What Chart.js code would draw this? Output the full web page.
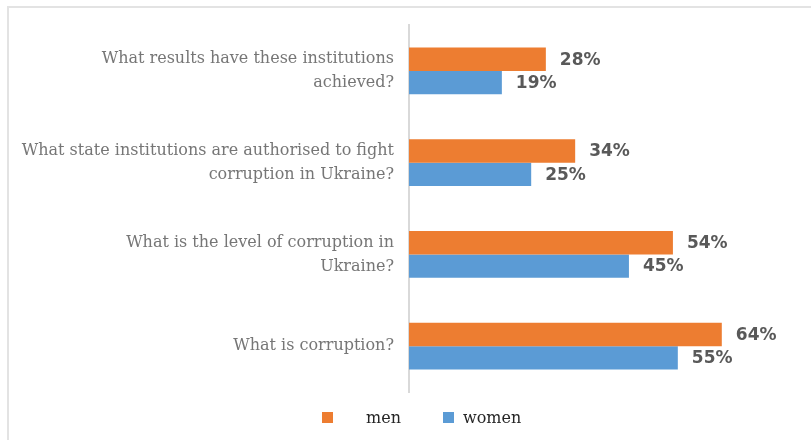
<!DOCTYPE html>
<html>
<head>
<meta charset="utf-8">
<title>Knowledge about corruption: men and women</title>
<script src="https://cdn.jsdelivr.net/npm/chart.js@4.4.1/dist/chart.umd.min.js"></script>
<style>
  html, body { margin: 0; padding: 0; background: #fff; overflow: hidden; }
  #frame {
    position: absolute; left: 7px; top: 6px; width: 830px; height: 460px;
    border-left: 2px solid #e3e3e3; border-top: 2px solid #e3e3e3;
  }
  #wrap { position: absolute; left: 0; top: 0; width: 811px; height: 440px; }
  #legend {
    position: absolute; left: 0; top: 409px; width: 811px; height: 24px;
    font-family: "DejaVu Serif", serif; font-size: 16px; line-height: 18px; color: #262626;
  }
  .legend-box { position: absolute; top: 3px; width: 11px; height: 11px; }
  .legend-text { position: absolute; top: 0; white-space: nowrap; }
</style>
</head>
<body>
<div id="frame"></div>
<div id="wrap"><canvas id="surveyChart" width="811" height="440"></canvas></div>
<div id="legend"></div>
<script>
const questions = [
  ["What results have these institutions", "achieved?"],
  ["What state institutions are authorised to fight", "corruption in Ukraine?"],
  ["What is the level of corruption in", "Ukraine?"],
  ["What is corruption?"]
];
const seriesNames = ["men", "women"];
const menValues = [28, 34, 54, 64];
const womenValues = [19, 25, 45, 55];
const seriesColors = ["#ED7D31", "#5B9BD5"];

// legend square / text x positions
const legendSlots = [
  { box: 322, text: 366 },
  { box: 443, text: 463 }
];

// prints "NN%" just past the end of each bar
const barValueLabels = {
  id: "barValueLabels",
  afterDatasetsDraw(chart) {
    const ctx = chart.ctx;
    ctx.save();
    ctx.font = "bold 17px 'DejaVu Sans', sans-serif";
    ctx.fillStyle = "#595959";
    ctx.textAlign = "left";
    ctx.textBaseline = "middle";
    chart.data.datasets.forEach((ds, i) => {
      const meta = chart.getDatasetMeta(i);
      meta.data.forEach((bar, j) => {
        ctx.fillText(ds.data[j] + "%", bar.x + 14, bar.y + 1);
      });
    });
    ctx.restore();
  }
};

const chart = new Chart(document.getElementById("surveyChart"), {
  type: "bar",
  data: {
    labels: questions,
    datasets: [
      {
        label: seriesNames[0],
        data: menValues,
        backgroundColor: seriesColors[0],
        categoryPercentage: 0.51,
        barPercentage: 1.0
      },
      {
        label: seriesNames[1],
        data: womenValues,
        backgroundColor: seriesColors[1],
        categoryPercentage: 0.51,
        barPercentage: 1.0
      }
    ]
  },
  options: {
    indexAxis: "y",
    responsive: false,
    animation: false,
    devicePixelRatio: 1,
    layout: { padding: { top: 25, bottom: 48, left: 0, right: 11 } },
    plugins: {
      legend: { display: false },
      tooltip: { enabled: false }
    },
    scales: {
      x: { min: 0, max: 80, display: false },
      y: {
        grid: { display: false },
        border: { display: true, color: "#d9d9d9", width: 2 },
        ticks: {
          padding: 7,
          color: "#767676",
          font: { family: "'DejaVu Serif', serif", size: 16, lineHeight: 1.5 }
        },
        afterFit(scale) {
          scale.width = 409; // keep the axis line at a fixed x
        }
      }
    }
  },
  plugins: [barValueLabels]
});

// html legend under the chart
const legendEl = document.getElementById("legend");
chart.data.datasets.forEach((ds, i) => {
  const box = document.createElement("span");
  box.className = "legend-box";
  box.style.left = legendSlots[i].box + "px";
  box.style.background = ds.backgroundColor;
  const txt = document.createElement("span");
  txt.className = "legend-text";
  txt.style.left = legendSlots[i].text + "px";
  txt.textContent = ds.label;
  legendEl.appendChild(box);
  legendEl.appendChild(txt);
});
</script>
</body>
</html>
